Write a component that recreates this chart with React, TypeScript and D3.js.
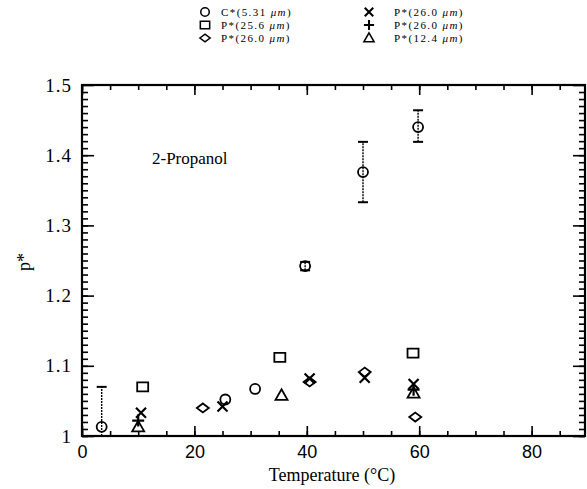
import React from "react";
import * as d3 from "d3";

// C*(5.31 um) circles, with error bars where the source shows them
const circleT = [3.5, 25.5, 30.8, 39.7, 50, 59.8];
const circleV = [1.013, 1.052, 1.067, 1.242, 1.376, 1.44];
const circleLo = [1.0, null, null, 1.236, 1.333, 1.419];
const circleHi = [1.07, null, null, 1.248, 1.419, 1.464];

// P*(25.6 um) squares
const squareT = [10.8, 35.2, 58.9];
const squareV = [1.07, 1.112, 1.118];

// P*(26.0 um) diamonds
const diamondT = [21.5, 40.5, 50.3, 59.3];
const diamondV = [1.04, 1.077, 1.091, 1.027];

// P*(26.0 um) crosses
const crossT = [10.5, 25, 40.5, 50.3, 59];
const crossV = [1.033, 1.042, 1.082, 1.083, 1.074];

// P*(26.0 um) plus
const plusT = [10, 59];
const plusV = [1.022, 1.066];

// P*(12.4 um) triangles
const triT = [10, 35.5, 59];
const triV = [1.013, 1.058, 1.061];

const xMajor = [0, 20, 40, 60, 80];
const yMajor = [1, 1.1, 1.2, 1.3, 1.4, 1.5];
const yLabels = ["1", "1.1", "1.2", "1.3", "1.4", "1.5"];

const legendLeft = [
  { sym: "circle", name: "C*", size: "(5.31 " },
  { sym: "square", name: "P*", size: "(25.6 " },
  { sym: "diamond", name: "P*", size: "(26.0 " },
];
const legendRight = [
  { sym: "cross", name: "P*", size: "(26.0 " },
  { sym: "plus", name: "P*", size: "(26.0 " },
  { sym: "triangle", name: "P*", size: "(12.4 " },
];

const markerPath = (sym: string) => {
  const p = d3.path();
  if (sym === "circle") {
    p.moveTo(5, 0);
    p.arc(0, 0, 5, 0, Math.PI * 2);
  } else if (sym === "square") {
    p.rect(-5.5, -4.5, 11, 9);
  } else if (sym === "diamond") {
    p.moveTo(-6, 0);
    p.lineTo(0, -4.5);
    p.lineTo(6, 0);
    p.lineTo(0, 4.5);
    p.closePath();
  } else if (sym === "triangle") {
    p.moveTo(0, -6);
    p.lineTo(6, 4.5);
    p.lineTo(-6, 4.5);
    p.closePath();
  } else if (sym === "cross") {
    p.moveTo(-5, -5);
    p.lineTo(5, 5);
    p.moveTo(5, -5);
    p.lineTo(-5, 5);
  } else {
    p.moveTo(-6, 0);
    p.lineTo(6, 0);
    p.moveTo(0, -6);
    p.lineTo(0, 6);
  }
  return p.toString();
};

const App = () => {
  const ref = React.useRef<SVGSVGElement>(null);

  React.useEffect(() => {
    const svg = d3.select(ref.current);
    svg.selectAll("*").remove();

    const left = 82, right = 585, top = 85, bottom = 436;
    const x = d3.scaleLinear().domain([0, 89.5]).range([left, right]);
    const y = d3.scaleLinear().domain([1, 1.5]).range([bottom, top]);

    const xMinor = d3.range(0, 90, 5);
    const yMinor = d3.range(1, 1.5, 0.01);
    const font = "Liberation Serif, DejaVu Serif, serif";

    const styleAxis = (g: any) => {
      g.select(".domain").remove();
      g.selectAll("line").attr("stroke", "#000").attr("stroke-width", 1.6);
    };

    // bottom
    svg.append("g").attr("transform", `translate(0,${bottom})`)
      .call(d3.axisBottom(x).tickValues(xMinor).tickSize(-5).tickFormat(() => ""))
      .call(styleAxis);
    svg.append("g").attr("transform", `translate(0,${bottom})`)
      .call(d3.axisBottom(x).tickValues(xMajor).tickSize(-10).tickPadding(9).tickFormat(d3.format("d")))
      .call(styleAxis)
      .selectAll("text")
      .attr("font-family", "Liberation Sans, Arial, sans-serif")
      .attr("font-size", 18)
      .attr("fill", "#000");
    // top
    svg.append("g").attr("transform", `translate(0,${top})`)
      .call(d3.axisTop(x).tickValues(xMinor).tickSize(-5).tickFormat(() => ""))
      .call(styleAxis);
    svg.append("g").attr("transform", `translate(0,${top})`)
      .call(d3.axisTop(x).tickValues(xMajor).tickSize(-10).tickFormat(() => ""))
      .call(styleAxis);
    // left
    svg.append("g").attr("transform", `translate(${left},0)`)
      .call(d3.axisLeft(y).tickValues(yMinor).tickSize(-6).tickFormat(() => ""))
      .call(styleAxis);
    svg.append("g").attr("transform", `translate(${left},0)`)
      .call(d3.axisLeft(y).tickValues(yMajor).tickSize(-12).tickPadding(10)
        .tickFormat((_, i) => yLabels[i]))
      .call(styleAxis)
      .selectAll("text")
      .attr("font-family", font)
      .attr("font-size", 19)
      .attr("letter-spacing", 1)
      .attr("fill", "#000");
    // right
    svg.append("g").attr("transform", `translate(${right},0)`)
      .call(d3.axisRight(y).tickValues(yMinor).tickSize(-6).tickFormat(() => ""))
      .call(styleAxis);
    svg.append("g").attr("transform", `translate(${right},0)`)
      .call(d3.axisRight(y).tickValues(yMajor).tickSize(-12).tickFormat(() => ""))
      .call(styleAxis);

    // frame
    svg.append("rect")
      .attr("x", left).attr("y", top)
      .attr("width", right - left).attr("height", bottom - top)
      .attr("fill", "none").attr("stroke", "#000").attr("stroke-width", 2.2);

    // error bars
    const errs = circleT.map((t, i) => ({ t, lo: circleLo[i], hi: circleHi[i] }))
      .filter((d) => d.lo != null);
    const eg = svg.append("g").attr("stroke", "#000").attr("stroke-width", 1.4);
    eg.selectAll("line.v").data(errs).join("line")
      .attr("x1", (d) => x(d.t)).attr("x2", (d) => x(d.t))
      .attr("y1", (d) => y(d.lo as number)).attr("y2", (d) => y(d.hi as number))
      .attr("stroke-dasharray", "2,1");
    eg.selectAll("line.lo").data(errs).join("line")
      .attr("x1", (d) => x(d.t) - 5).attr("x2", (d) => x(d.t) + 5)
      .attr("y1", (d) => y(d.lo as number)).attr("y2", (d) => y(d.lo as number))
      .attr("stroke-width", 2);
    eg.selectAll("line.hi").data(errs).join("line")
      .attr("x1", (d) => x(d.t) - 5).attr("x2", (d) => x(d.t) + 5)
      .attr("y1", (d) => y(d.hi as number)).attr("y2", (d) => y(d.hi as number))
      .attr("stroke-width", 2);

    const series = [
      { sym: "circle", t: circleT, v: circleV },
      { sym: "square", t: squareT, v: squareV },
      { sym: "diamond", t: diamondT, v: diamondV },
      { sym: "cross", t: crossT, v: crossV },
      { sym: "plus", t: plusT, v: plusV },
      { sym: "triangle", t: triT, v: triV },
    ];
    series.forEach((s) => {
      svg.append("g").selectAll("path")
        .data(s.t.map((t, i) => [t, s.v[i]]))
        .join("path")
        .attr("transform", (d) => `translate(${x(d[0])},${y(d[1])})`)
        .attr("d", markerPath(s.sym))
        .attr("fill", "none")
        .attr("stroke", "#000")
        .attr("stroke-width", s.sym === "cross" || s.sym === "plus" ? 2.2 : 1.8);
    });

    // legend
    const drawLegend = (items: any[], sx: number, tx: number) => {
      items.forEach((d, i) => {
        const ly = 12 + i * 13;
        svg.append("path")
          .attr("transform", `translate(${sx},${ly}) scale(0.85)`)
          .attr("d", markerPath(d.sym))
          .attr("fill", "none").attr("stroke", "#000")
          .attr("stroke-width", d.sym === "cross" || d.sym === "plus" ? 2.4 : 1.8);
        const txt = svg.append("text")
          .attr("x", tx).attr("y", ly + 4)
          .attr("font-family", font).attr("font-size", 11)
          .attr("letter-spacing", 1.4)
          .attr("fill", "#000");
        txt.append("tspan").text(d.name + d.size);
        txt.append("tspan").attr("font-style", "italic").text("μm");
        txt.append("tspan").text(")");
      });
    };
    drawLegend(legendLeft, 205, 221);
    drawLegend(legendRight, 369, 394);

    // annotation
    svg.append("text")
      .attr("x", 152).attr("y", 164)
      .attr("font-family", font).attr("font-size", 17)
      .attr("fill", "#000")
      .text("2-Propanol");

    // axis titles
    svg.append("text")
      .attr("x", 332).attr("y", 481)
      .attr("text-anchor", "middle")
      .attr("font-family", font).attr("font-size", 18)
      .attr("fill", "#000")
      .text("Temperature (°C)");
    svg.append("text")
      .attr("transform", `translate(30,262) rotate(-90)`)
      .attr("text-anchor", "middle")
      .attr("font-family", font).attr("font-size", 18)
      .attr("fill", "#000")
      .text("p*");
  }, []);

  return (
    <svg
      ref={ref}
      width={587}
      height={489}
      style={{ position: "absolute", left: 0, top: 0, background: "#fff" }}
    ></svg>
  );
};

export default App;
